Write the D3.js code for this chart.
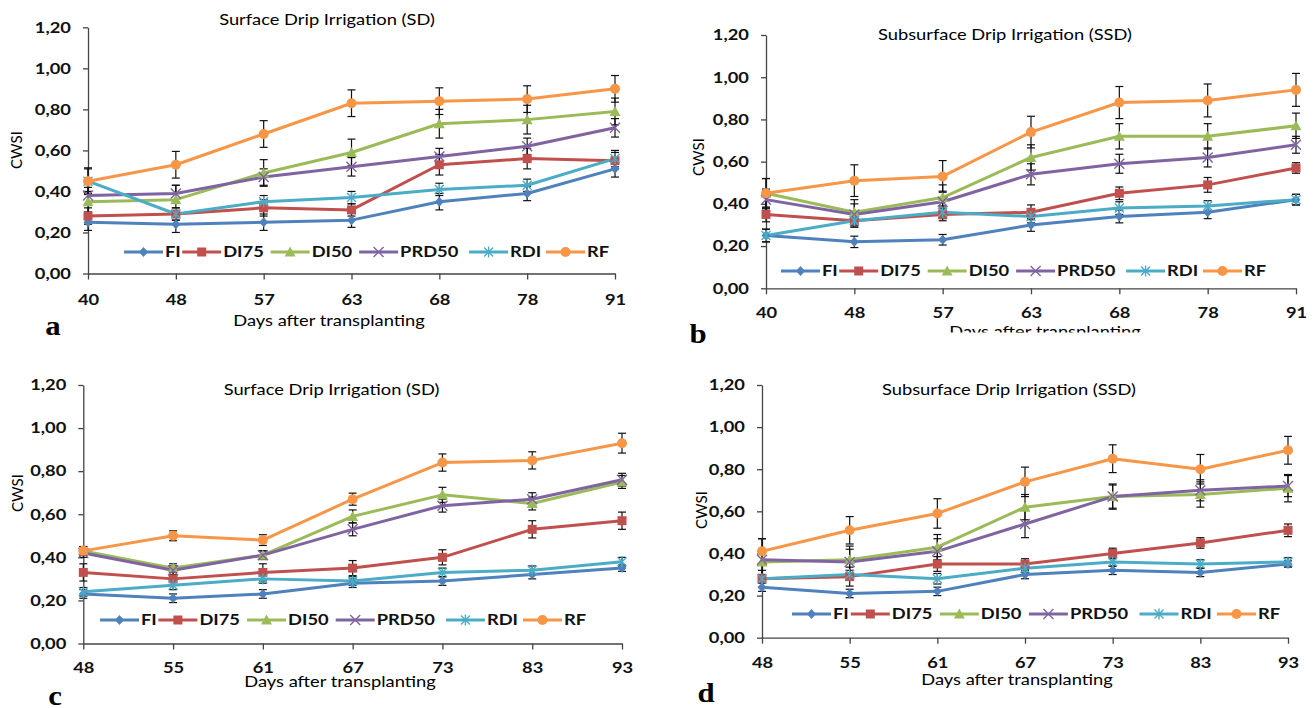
<!DOCTYPE html>
<html><head><meta charset="utf-8">
<script src="https://cdn.jsdelivr.net/npm/d3@7"></script>
<style>
body{margin:0;background:#fff}
svg{display:block}
</style>
</head><body>
<svg id="chart" width="1313" height="708"></svg>
<script>
// ---------- data ----------
const seriesNames = ["FI","DI75","DI50","PRD50","RDI","RF"];
const seriesColors = ["#4F81BD","#C0504D","#9BBB59","#8064A2","#4BACC6","#F79646"];
const seriesMarkers = ["diamond","square","triangle","x","star","circle"];
const yTickValues = [0,0.2,0.4,0.6,0.8,1.0,1.2];
const daysAB = ["40","48","57","63","68","78","91"];
const daysCD = ["48","55","61","67","73","83","93"];

// panel a : Surface Drip Irrigation (SD)
const a_FI    = [0.25,0.24,0.25,0.26,0.35,0.39,0.51];
const a_DI75  = [0.28,0.29,0.32,0.31,0.53,0.56,0.55];
const a_DI50  = [0.35,0.36,0.49,0.59,0.73,0.75,0.79];
const a_PRD50 = [0.38,0.39,0.47,0.52,0.57,0.62,0.71];
const a_RDI   = [0.45,0.29,0.35,0.37,0.41,0.43,0.56];
const a_RF    = [0.45,0.53,0.68,0.83,0.84,0.85,0.90];
const a_FI_err    = [0.04,0.04,0.04,0.035,0.04,0.035,0.04];
const a_DI75_err  = [0.04,0.03,0.04,0.03,0.05,0.05,0.04];
const a_DI50_err  = [0.05,0.07,0.065,0.065,0.07,0.07,0.065];
const a_PRD50_err = [0.04,0.04,0.04,0.045,0.04,0.04,0.045];
const a_RDI_err   = [0.06,0.03,0.03,0.03,0.03,0.03,0.04];
const a_RF_err    = [0.065,0.065,0.065,0.065,0.065,0.065,0.065];

// panel b : Subsurface Drip Irrigation (SSD)
const b_FI    = [0.25,0.22,0.23,0.30,0.34,0.36,0.42];
const b_DI75  = [0.35,0.32,0.35,0.36,0.45,0.49,0.57];
const b_DI50  = [0.45,0.36,0.43,0.62,0.72,0.72,0.77];
const b_PRD50 = [0.42,0.35,0.41,0.54,0.59,0.62,0.68];
const b_RDI   = [0.25,0.32,0.36,0.34,0.38,0.39,0.42];
const b_RF    = [0.45,0.51,0.53,0.74,0.88,0.89,0.94];
const b_FI_err    = [0.03,0.027,0.025,0.03,0.03,0.03,0.025];
const b_DI75_err  = [0.035,0.03,0.03,0.035,0.03,0.035,0.025];
const b_DI50_err  = [0.07,0.06,0.06,0.06,0.06,0.06,0.06];
const b_PRD50_err = [0.05,0.05,0.05,0.05,0.045,0.045,0.04];
const b_RDI_err   = [0.03,0.03,0.03,0.03,0.03,0.025,0.025];
const b_RF_err    = [0.07,0.075,0.075,0.075,0.076,0.078,0.078];

// panel c : Surface Drip Irrigation (SD)
const c_FI    = [0.23,0.21,0.23,0.28,0.29,0.32,0.35];
const c_DI75  = [0.33,0.30,0.33,0.35,0.40,0.53,0.57];
const c_DI50  = [0.43,0.35,0.41,0.59,0.69,0.65,0.75];
const c_PRD50 = [0.42,0.34,0.41,0.53,0.64,0.67,0.76];
const c_RDI   = [0.24,0.27,0.30,0.29,0.33,0.34,0.38];
const c_RF    = [0.43,0.50,0.48,0.67,0.84,0.85,0.93];
const c_FI_err    = [0.02,0.02,0.02,0.02,0.02,0.02,0.015];
const c_DI75_err  = [0.04,0.03,0.04,0.035,0.035,0.04,0.04];
const c_DI50_err  = [0.02,0.02,0.02,0.03,0.035,0.03,0.03];
const c_PRD50_err = [0.02,0.02,0.02,0.03,0.03,0.03,0.03];
const c_RDI_err   = [0.02,0.02,0.02,0.02,0.02,0.02,0.02];
const c_RF_err    = [0.02,0.023,0.025,0.028,0.04,0.04,0.046];

// panel d : Subsurface Drip Irrigation (SSD)
const d_FI    = [0.24,0.21,0.22,0.30,0.32,0.31,0.35];
const d_DI75  = [0.28,0.29,0.35,0.35,0.40,0.45,0.51];
const d_DI50  = [0.36,0.37,0.43,0.62,0.67,0.68,0.71];
const d_PRD50 = [0.37,0.36,0.41,0.54,0.67,0.70,0.72];
const d_RDI   = [0.28,0.30,0.28,0.33,0.36,0.35,0.36];
const d_RF    = [0.41,0.51,0.59,0.74,0.85,0.80,0.89];
const d_FI_err    = [0.02,0.02,0.02,0.02,0.02,0.02,0.015];
const d_DI75_err  = [0.04,0.045,0.035,0.025,0.025,0.025,0.03];
const d_DI50_err  = [0.06,0.065,0.06,0.06,0.055,0.06,0.065];
const d_PRD50_err = [0.1,0.06,0.06,0.065,0.06,0.05,0.05];
const d_RDI_err   = [0.02,0.02,0.025,0.02,0.02,0.02,0.02];
const d_RF_err    = [0.06,0.065,0.07,0.07,0.066,0.07,0.066];

const titleSD = "Surface Drip Irrigation (SD)";
const titleSSD = "Subsurface Drip Irrigation (SSD)";
const xAxisTitle = "Days after transplanting";
const yAxisTitle = "CWSI";

// ---------- layout ----------
const panels = [
  {letter:"a", title:titleSD, days:daysAB,
   values:[a_FI,a_DI75,a_DI50,a_PRD50,a_RDI,a_RF],
   errs:[a_FI_err,a_DI75_err,a_DI50_err,a_PRD50_err,a_RDI_err,a_RF_err],
   x0:88, x1:615, yb:273.5, yt:27.3, titleX:327, titleY:25, xPad:15,
   xlabX:329, xlabY:326, cwsiX:22, cwsiY:150, legX:124, legW:490, legY:252, lx:53, ly:335},
  {letter:"b", title:titleSSD, days:daysAB,
   values:[b_FI,b_DI75,b_DI50,b_PRD50,b_RDI,b_RF],
   errs:[b_FI_err,b_DI75_err,b_DI50_err,b_PRD50_err,b_RDI_err,b_RF_err],
   x0:766, x1:1296, yb:288.3, yt:35, titleX:1005, titleY:40, xPad:13,
   xlabX:1045, xlabY:337, clipY:332.5, cwsiX:704, cwsiY:157, legX:781, legW:490, legY:271, lx:698, ly:343},
  {letter:"c", title:titleSD, days:daysCD,
   values:[c_FI,c_DI75,c_DI50,c_PRD50,c_RDI,c_RF],
   errs:[c_FI_err,c_DI75_err,c_DI50_err,c_PRD50_err,c_RDI_err,c_RF_err],
   x0:83.3, x1:622, yb:643.5, yt:385, titleX:331.5, titleY:395, xPad:13,
   xlabX:340, xlabY:687, cwsiX:22.6, cwsiY:493, legX:100, legW:491, legY:620, lx:55, ly:705},
  {letter:"d", title:titleSSD, days:daysCD,
   values:[d_FI,d_DI75,d_DI50,d_PRD50,d_RDI,d_RF],
   errs:[d_FI_err,d_DI75_err,d_DI50_err,d_PRD50_err,d_RDI_err,d_RF_err],
   x0:762, x1:1288, yb:637.7, yt:385, titleX:1009, titleY:395, xPad:14,
   xlabX:1017, xlabY:685, cwsiX:707, cwsiY:510, legX:792, legW:493, legY:614, lx:706, ly:702}
];

const SANS = "Lato, 'Open Sans', sans-serif";
const SERIF = "'Liberation Serif', 'Times New Roman', serif";
const K = 1.22; // horizontal stretch of text in the reference
function stretch(sel, k = K){
  sel.each(function(){
    const L = this.getComputedTextLength();
    if (L > 0){ this.setAttribute("textLength", L*k); this.setAttribute("lengthAdjust","spacingAndGlyphs"); }
  });
}

function drawMarker(g, type, color){
  if (type === "diamond") g.append("path").attr("d","M0,-5L4.5,0L0,5L-4.5,0Z").attr("fill",color);
  else if (type === "square") g.append("rect").attr("x",-4.5).attr("y",-4.5).attr("width",9).attr("height",9).attr("fill",color);
  else if (type === "triangle") g.append("path").attr("d","M0,-5.5L5.5,4.5L-5.5,4.5Z").attr("fill",color);
  else if (type === "x") g.append("path").attr("d","M-5,-5L5,5M-5,5L5,-5").attr("stroke",color).attr("stroke-width",1.4).attr("fill","none");
  else if (type === "star") g.append("path").attr("d","M-4.5,-4.5L4.5,4.5M-4.5,4.5L4.5,-4.5M0,-5.5L0,5.5").attr("stroke",color).attr("stroke-width",1.4).attr("fill","none");
  else g.append("circle").attr("r",5).attr("fill",color);
}

const svg = d3.select("#chart");
const fmt = v => d3.format(".2f")(v).replace(".", ",");

panels.forEach((p, pi) => {
  const g = svg.append("g");
  const x = d3.scalePoint().domain(p.days).range([p.x0, p.x1]).padding(0);
  const y = d3.scaleLinear().domain([0, 1.2]).range([p.yb, p.yt]);

  // axes
  const yAx = g.append("g").attr("transform", `translate(${p.x0},0)`)
    .call(d3.axisLeft(y).tickValues(yTickValues).tickFormat(fmt).tickSize(5).tickSizeOuter(0).tickPadding(12));
  const xAx = g.append("g").attr("transform", `translate(0,${p.yb})`)
    .call(d3.axisBottom(x).tickSize(6).tickSizeOuter(0).tickPadding(p.xPad));
  [yAx, xAx].forEach(ax => {
    ax.select(".domain").attr("stroke","#444").attr("stroke-width",1.3);
    ax.selectAll(".tick line").attr("stroke","#444").attr("stroke-width",1.3);
    ax.selectAll(".tick text").style("font-family",SANS).style("font-size","15px")
      .style("font-weight","bold").style("fill","#111").call(stretch);
  });

  // error bars
  const eg = g.append("g");
  p.values.forEach((vals, si) => {
    vals.forEach((v, i) => {
      const e = p.errs[si][i];
      const cx = x(p.days[i]);
      const y1 = y(v + e), y2 = y(v - e);
      eg.append("line").attr("x1",cx).attr("x2",cx).attr("y1",y1).attr("y2",y2).attr("stroke","#111").attr("stroke-width",1.2);
      [y1, y2].forEach(yy => eg.append("line").attr("x1",cx-4).attr("x2",cx+4).attr("y1",yy).attr("y2",yy).attr("stroke","#111").attr("stroke-width",1.2));
    });
  });

  // lines + markers
  const line = d3.line().x((d,i) => x(p.days[i])).y(d => y(d));
  p.values.forEach((vals, si) => {
    g.append("path").datum(vals).attr("d", line).attr("fill","none")
      .attr("stroke", seriesColors[si]).attr("stroke-width",3).attr("stroke-linejoin","round");
  });
  p.values.forEach((vals, si) => {
    vals.forEach((v, i) => {
      const mg = g.append("g").attr("transform", `translate(${x(p.days[i])},${y(v)})`);
      drawMarker(mg, seriesMarkers[si], seriesColors[si]);
    });
  });

  // legend
  const lg = g.append("g");
  const items = seriesNames.map((name, si) => {
    const it = lg.append("g");
    it.append("line").attr("x1",0).attr("x2",39).attr("y1",0).attr("y2",0)
      .attr("stroke",seriesColors[si]).attr("stroke-width",3);
    drawMarker(it.append("g").attr("transform","translate(19.5,0)"), seriesMarkers[si], seriesColors[si]);
    const t = it.append("text").attr("x",41).attr("y",0).attr("dy","0.36em")
      .style("font-family",SANS).style("font-size","15px").style("font-weight","bold").style("fill","#111").text(name);
    stretch(t);
    return {it, w: 41 + t.node().getComputedTextLength()*K};
  });
  const totalW = d3.sum(items, d => d.w);
  const gap = (p.legW - totalW) / (items.length - 1);
  let cx = p.legX;
  items.forEach(d => { d.it.attr("transform", `translate(${cx},${p.legY})`); cx += d.w + gap; });

  // titles
  const tt = g.append("text").attr("x",p.titleX).attr("y",p.titleY).attr("text-anchor","middle")
    .style("font-family",SANS).style("font-size","15px").style("fill","#000").text(p.title);
  stretch(tt);

  let xlabParent = g;
  if (p.clipY){
    const cid = "clip" + pi;
    svg.append("clipPath").attr("id",cid).append("rect").attr("x",0).attr("y",0).attr("width",1313).attr("height",p.clipY);
    xlabParent = g.append("g").attr("clip-path", `url(#${cid})`);
  }
  const xt = xlabParent.append("text").attr("x",p.xlabX).attr("y",p.xlabY).attr("text-anchor","middle")
    .style("font-family",SANS).style("font-size","15px").style("fill","#000").text(xAxisTitle);
  stretch(xt);

  g.append("text").attr("transform", `translate(${p.cwsiX},${p.cwsiY}) rotate(-90)`)
    .attr("text-anchor","middle").style("font-family",SANS).style("font-size","15px").style("fill","#000").text(yAxisTitle);

  const lt = g.append("text").attr("x",p.lx).attr("y",p.ly).attr("text-anchor","middle")
    .style("font-family",SERIF).style("font-weight","bold")
    .style("font-size","28px").style("fill","#000").text(p.letter);
  stretch(lt, 1.1);
});
</script>
</body></html>
